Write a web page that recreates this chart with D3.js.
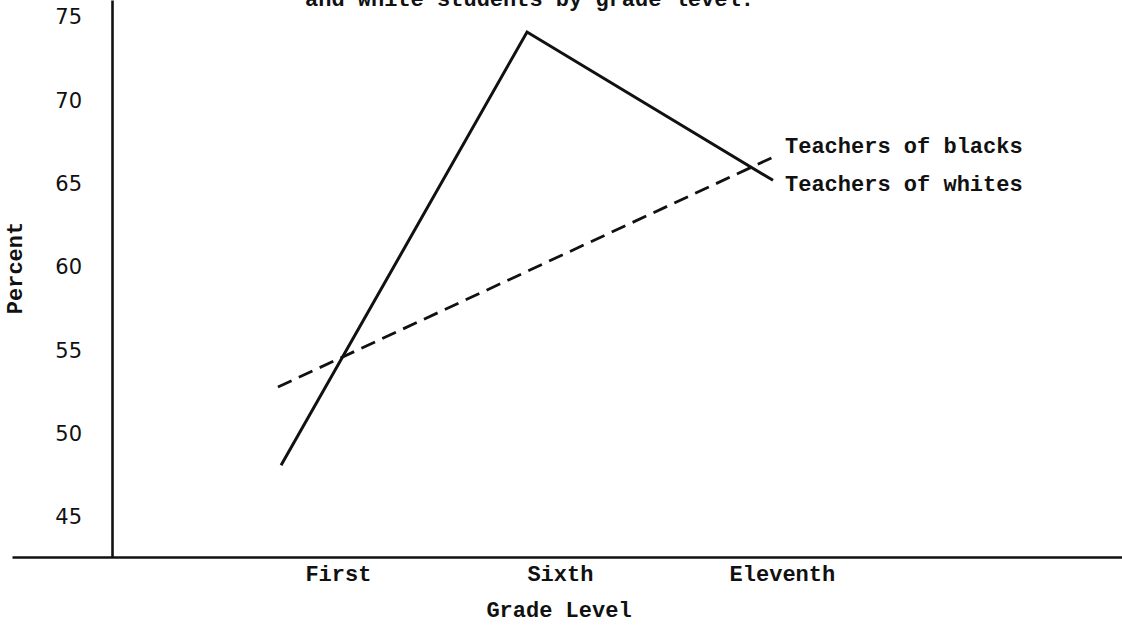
<!DOCTYPE html>
<html>
<head>
<meta charset="utf-8">
<script src="https://cdn.jsdelivr.net/npm/d3@7"></script>
<style>
  body { margin: 0; background: #fff; }
  svg { display: block; }
  .type { font-family: "Liberation Mono", "Courier New", monospace; font-weight: bold; fill: #111; }
  .num { font-family: "DejaVu Sans", sans-serif; fill: #111; }
</style>
</head>
<body>
<svg width="1122" height="625"></svg>
<script>
var gradeLabels = ["First", "Sixth", "Eleventh"];
var gradeTicks = [1, 6, 11];
var percentTicks = [45, 50, 55, 60, 65, 70, 75];

// positions along the grade axis where each line was drawn
var whitesAt = [-0.28, 5.26, 10.8];
var whitesPct = [48.1, 74.1, 65.2];
var blacksAt = [-0.35, 10.89];
var blacksPct = [52.8, 66.7];

var svg = d3.select("svg"),
    width = +svg.attr("width"),
    height = +svg.attr("height");

svg.append("rect").attr("width", width).attr("height", height).attr("fill", "#fff");

var x = d3.scaleLinear().domain([-6.34, 18.66]).range([12, 1122]);
var y = d3.scaleLinear().domain([42.6, 76.02]).range([557, 0]);

// title line, mostly cut off at the top
svg.append("text")
    .attr("class", "type")
    .attr("x", 305)
    .attr("y", 6)
    .style("font-size", "22px")
    .text("and white students by grade level.");

var yAxis = svg.append("g")
    .attr("transform", "translate(" + x(-6.34 + (112 - 12) / 44.4) + ",0)")
    .call(d3.axisLeft(y).tickValues(percentTicks).tickSize(0).tickPadding(30));
yAxis.select(".domain").attr("stroke", "#111").attr("stroke-width", 2.6);
yAxis.selectAll("text")
    .attr("class", "num")
    .style("font-size", "21px")
    .attr("fill", "#111");

var xAxis = svg.append("g")
    .attr("transform", "translate(0," + y(42.6) + ")")
    .call(d3.axisBottom(x).tickValues(gradeTicks).tickSize(0).tickPadding(8)
        .tickFormat(function (d, i) {
            return gradeLabels[i];
        }));
xAxis.select(".domain").attr("stroke", "#111").attr("stroke-width", 2.6);
xAxis.selectAll("text")
    .attr("class", "type")
    .style("font-size", "22px")
    .attr("fill", "#111");

var line = d3.line()
    .x(function (d) {
        return x(d[0]);
    })
    .y(function (d) {
        return y(d[1]);
    });

svg.append("path")
    .datum(d3.zip(blacksAt, blacksPct))
    .attr("fill", "none")
    .attr("stroke", "#111")
    .attr("stroke-width", 2.8)
    .attr("stroke-dasharray", "15,8")
    .attr("d", line);

svg.append("path")
    .datum(d3.zip(whitesAt, whitesPct))
    .attr("fill", "none")
    .attr("stroke", "#111")
    .attr("stroke-width", 3)
    .attr("stroke-linejoin", "miter")
    .attr("d", line);

// line labels at the right ends
svg.append("text")
    .attr("class", "type")
    .attr("x", x(blacksAt[1]) + 8)
    .attr("y", y(blacksPct[1]) - 2)
    .style("font-size", "22px")
    .text("Teachers of blacks");

svg.append("text")
    .attr("class", "type")
    .attr("x", x(whitesAt[2]) + 12)
    .attr("y", y(whitesPct[2]) + 11)
    .style("font-size", "22px")
    .text("Teachers of whites");

svg.append("text")
    .attr("class", "type")
    .attr("text-anchor", "middle")
    .attr("x", 559)
    .attr("y", 617)
    .style("font-size", "22px")
    .text("Grade Level");

svg.append("text")
    .attr("class", "type")
    .attr("text-anchor", "middle")
    .attr("transform", "translate(22,268) rotate(-90)")
    .style("font-size", "22px")
    .text("Percent");
</script>
</body>
</html>
